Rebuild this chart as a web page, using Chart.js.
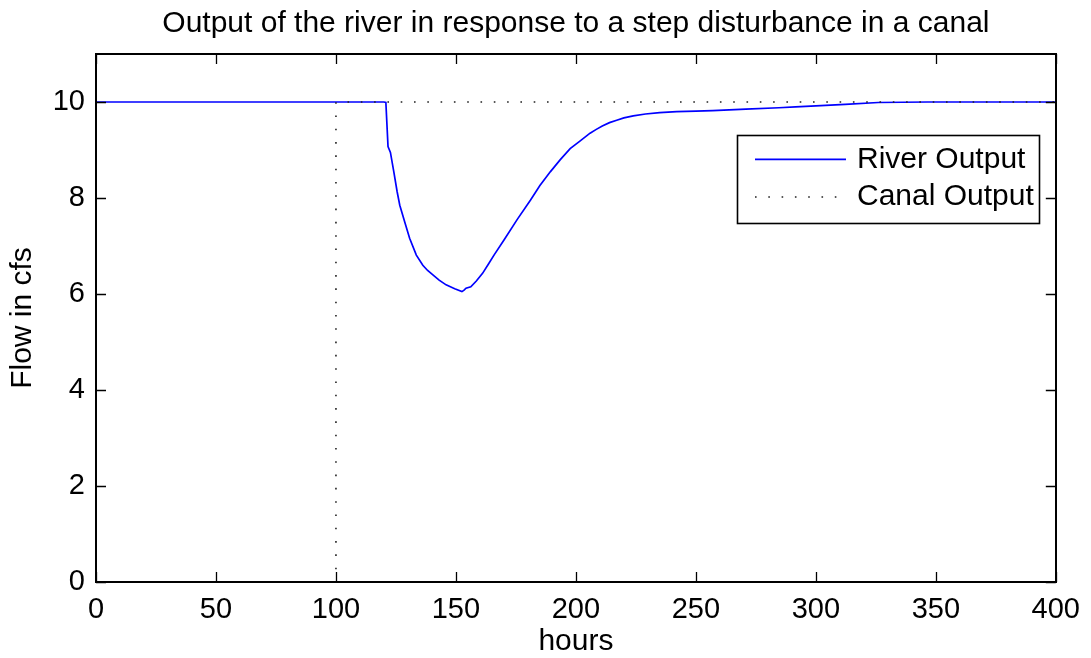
<!DOCTYPE html>
<html>
<head>
<meta charset="utf-8">
<script src="https://cdn.jsdelivr.net/npm/chart.js@4.4.1/dist/chart.umd.min.js"></script>
<style>
  html, body { margin: 0; padding: 0; background: #ffffff; }
  #wrap { width: 1091px; height: 658px; position: relative; }
</style>
</head>
<body>
<div id="wrap"><canvas id="c" width="1091" height="658"></canvas></div>
<script>
// ---- data ----
const chartTitle = 'Output of the river in response to a step disturbance in a canal';
const xTitle = 'hours';
const yTitle = 'Flow in cfs';
const seriesNames = ['River Output', 'Canal Output'];

const riverHours = [0, 100, 120, 120.8, 121.7, 122.7, 124.1, 125.5, 126.6, 128.6, 130.7, 133.5, 136.2, 138.2, 140.4, 143, 145.9, 149.5, 152.5, 153.4, 154.2, 156.2, 158.5, 161.1, 163.5, 166, 170.1, 175.5, 181.1, 185, 189.4, 193.5, 197.6, 201.8, 205.9, 208.5, 211, 214, 217, 220, 223.9, 229, 234.9, 242, 250, 257, 270.8, 284.6, 291.5, 300, 312.2, 326, 346.6, 400];
const riverFlow  = [10, 10, 10, 9.99, 9.07, 8.95, 8.55, 8.13, 7.85, 7.51, 7.16, 6.81, 6.60, 6.49, 6.40, 6.29, 6.19, 6.11, 6.05, 6.08, 6.12, 6.15, 6.27, 6.43, 6.62, 6.82, 7.13, 7.55, 7.96, 8.26, 8.55, 8.80, 9.03, 9.19, 9.35, 9.43, 9.50, 9.57, 9.62, 9.67, 9.71, 9.75, 9.78, 9.80, 9.81, 9.82, 9.85, 9.88, 9.90, 9.92, 9.95, 9.99, 10.0, 10.0];

const canalHours = [0, 100, 100, 400];
const canalFlow  = [0, 0, 10, 10];

const xTicks = [0, 50, 100, 150, 200, 250, 300, 350, 400];
const yTicks = [0, 2, 4, 6, 8, 10];
const xRange = [0, 400];
const yRange = [0, 11];

// ---- build ----
const toXY = (xs, ys) => xs.map((x, i) => ({ x: x, y: ys[i] }));
const FONT = '"Liberation Sans", Arial, Helvetica, sans-serif';
const DOT = [1.6, 11.7];
const TEXT_SIZE = 30;
const TICK_SIZE = 29;

const axesBox = {
  id: 'axesBox',
  afterDraw(chart) {
    const { ctx, chartArea: a, scales } = chart;
    ctx.save();
    // title centred over the axes
    ctx.fillStyle = '#000';
    ctx.font = TEXT_SIZE + 'px ' + FONT;
    ctx.textAlign = 'center';
    ctx.textBaseline = 'alphabetic';
    ctx.fillText(chartTitle, (a.left + a.right) / 2, 32);

    ctx.strokeStyle = '#000';
    ctx.lineWidth = 1.3;
    // inward ticks on all four sides
    const tl = 10;
    ctx.beginPath();
    xTicks.forEach(v => {
      const px = Math.round(scales.x.getPixelForValue(v)) + 0.5;
      ctx.moveTo(px, a.bottom); ctx.lineTo(px, a.bottom - tl);
      ctx.moveTo(px, a.top); ctx.lineTo(px, a.top + tl);
    });
    yTicks.forEach(v => {
      const py = Math.round(scales.y.getPixelForValue(v)) + 0.5;
      ctx.moveTo(a.left, py); ctx.lineTo(a.left + tl, py);
      ctx.moveTo(a.right, py); ctx.lineTo(a.right - tl, py);
    });
    ctx.stroke();
    // box
    ctx.lineWidth = 2;
    ctx.strokeRect(Math.round(a.left), Math.round(a.top),
                   Math.round(a.right - a.left), Math.round(a.bottom - a.top));

    // legend box (drawn from dataset styles)
    const lx = 737, ly = 135, lw = 302, lh = 88;
    ctx.fillStyle = '#fff';
    ctx.fillRect(lx, ly, lw, lh);
    ctx.lineWidth = 1.6;
    ctx.strokeRect(lx + 0.5, ly + 0.5, lw, lh);
    const rows = [159.3, 197];
    chart.data.datasets.forEach((ds, i) => {
      const y = rows[i];
      ctx.save();
      ctx.strokeStyle = ds.borderColor;
      ctx.lineWidth = ds.borderWidth;
      ctx.setLineDash(ds.borderDash || []);
      ctx.beginPath();
      ctx.moveTo(755, y); ctx.lineTo(846, y);
      ctx.stroke();
      ctx.restore();
      ctx.fillStyle = '#000';
      ctx.font = TEXT_SIZE + 'px ' + FONT;
      ctx.textBaseline = 'middle';
      ctx.textAlign = 'left';
      ctx.fillText(ds.label, 857, y);
    });
    ctx.restore();
  }
};

new Chart(document.getElementById('c'), {
  type: 'line',
  data: {
    datasets: [
      {
        label: seriesNames[0],
        data: toXY(riverHours, riverFlow),
        borderColor: '#0000ff',
        borderWidth: 1.7,
        pointRadius: 0,
        tension: 0,
        order: 1
      },
      {
        label: seriesNames[1],
        data: toXY(canalHours, canalFlow),
        borderColor: '#222222',
        borderWidth: 1.6,
        borderDash: DOT,
        pointRadius: 0,
        tension: 0,
        order: 0
      }
    ]
  },
  options: {
    responsive: false,
    animation: false,
    devicePixelRatio: 1,
    layout: { padding: { left: 0, right: 29, top: 54, bottom: 0 } },
    plugins: {
      legend: { display: false },
      tooltip: { enabled: false },
      title: { display: false }
    },
    scales: {
      x: {
        type: 'linear',
        position: 'bottom',
        min: xRange[0], max: xRange[1],
        afterBuildTicks(s) { s.ticks = xTicks.map(v => ({ value: v })); },
        afterFit(s) { s.height = 76; },
        grid: { display: false, drawTicks: false },
        border: { display: false },
        ticks: {
          color: '#000',
          font: { family: FONT, size: TICK_SIZE },
          padding: 11,
          maxRotation: 0,
          autoSkip: false
        },
        title: {
          display: true,
          text: xTitle,
          color: '#000',
          font: { family: FONT, size: TEXT_SIZE, lineHeight: 1.1 },
          padding: { top: 0, bottom: 0 }
        }
      },
      y: {
        type: 'linear',
        min: yRange[0], max: yRange[1],
        afterBuildTicks(s) { s.ticks = yTicks.map(v => ({ value: v })); },
        afterFit(s) { s.width = 96; },
        grid: { display: false, drawTicks: false },
        border: { display: false },
        ticks: {
          color: '#000',
          font: { family: FONT, size: TICK_SIZE },
          padding: 11,
          autoSkip: false
        },
        title: {
          display: true,
          text: yTitle,
          color: '#000',
          font: { family: FONT, size: TEXT_SIZE, lineHeight: 1.1 },
          padding: { top: 6, bottom: 0 }
        }
      }
    }
  },
  plugins: [axesBox]
});
</script>
</body>
</html>
